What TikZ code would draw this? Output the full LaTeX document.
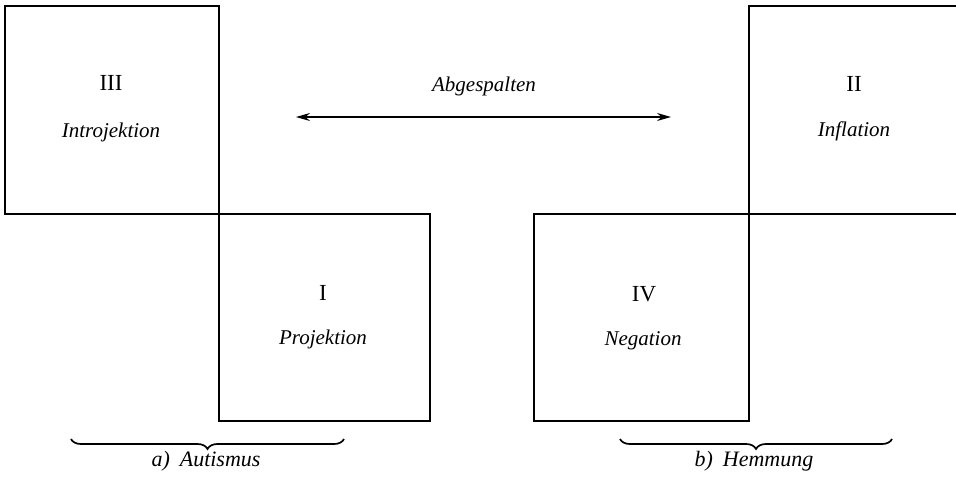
\documentclass[tikz,border=0pt]{standalone}
\usepackage{fontspec}
\setmainfont{Liberation Serif}
\usetikzlibrary{arrows.meta,decorations.pathreplacing}
\begin{document}
\begin{tikzpicture}[x=0.5pt,y=-0.5pt,
  field/.style={draw,line width=0.85pt,inner sep=0pt,anchor=north west},
  numeral/.style={anchor=base,inner sep=0pt,font=\fontsize{11.5}{13}\selectfont},
  term/.style={anchor=base,inner sep=0pt,font=\fontsize{10.5}{12}\selectfont\itshape},
  caption/.style={anchor=base,inner sep=0pt,font=\fontsize{11}{13}\selectfont\itshape},
  bracket/.style={line width=0.85pt,decorate,decoration={brace,mirror,amplitude=5pt}}]
\useasboundingbox (0,0) rectangle (956,483);

% the four fields
\node[field,minimum width=107pt,minimum height=104pt] (f3) at (4,5) {};
\node[field,minimum width=105.5pt,minimum height=103.5pt] (f1) at (218,213) {};
\node[field,minimum width=107.5pt,minimum height=103.5pt] (f4) at (533,213) {};
\node[field,minimum width=120pt,minimum height=104pt] (f2) at (748,5) {};

% field labels
\node[numeral] (n3) at (111,90) {III};
\node[term] (t3) at (111,137) {Introjektion};
\node[numeral] (n2) at (854,91) {II};
\node[term] (t2) at (854,136) {Inflation};
\node[numeral] (n1) at (323,300) {I};
\node[term] (t1) at (323,344) {Projektion};
\node[numeral] (n4) at (644,301) {IV};
\node[term] (t4) at (643,345) {Negation};

% split between the two attitudes
\coordinate (aL) at (296,117);
\coordinate (aR) at (671,117);
\draw[line width=0.65pt,{Stealth[length=7pt,width=4pt]}-{Stealth[length=7pt,width=4pt]}] (aL) -- (aR);
\node[term] (ab) at (484,91) {Abgespalten};

% braces and captions
\coordinate (bLa) at (71,439);
\coordinate (bLb) at (344,439);
\coordinate (bRa) at (620,439);
\coordinate (bRb) at (892,439);
\draw[bracket] (bLa) -- (bLb);
\draw[bracket] (bRa) -- (bRb);
\node[caption] (ca) at (206,466) {a)\hspace{5pt}Autismus};
\node[caption] (cb) at (754,466) {b)\hspace{5pt}Hemmung};
\end{tikzpicture}
\end{document}
